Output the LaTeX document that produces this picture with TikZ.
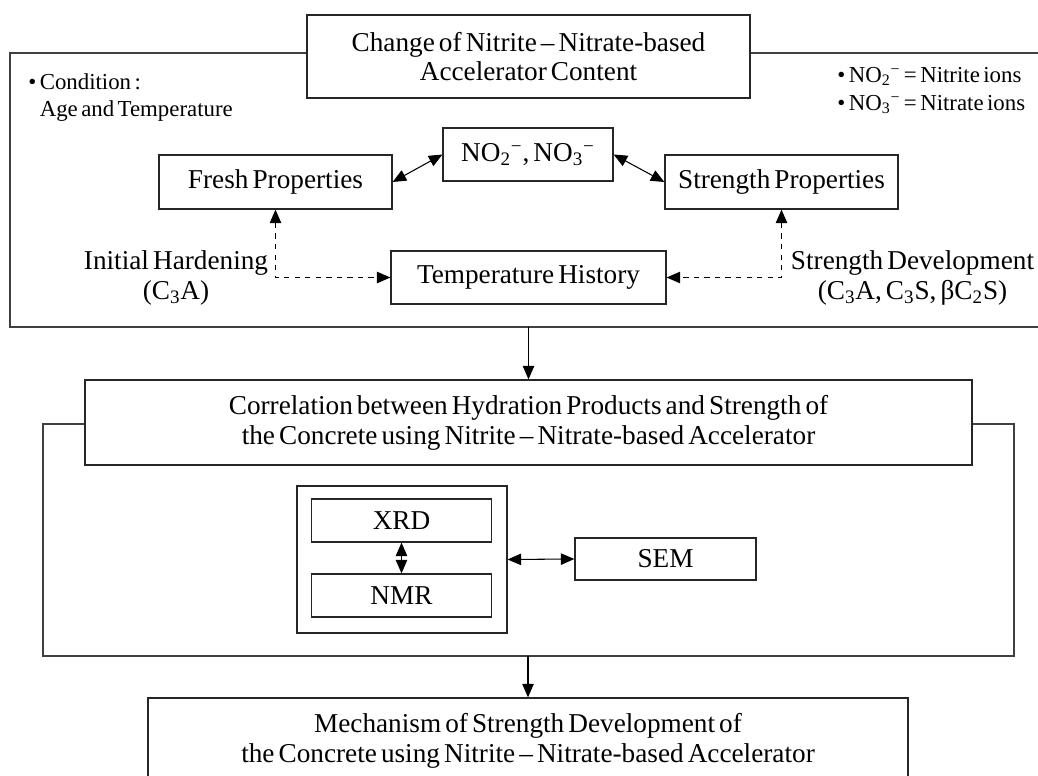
\documentclass[tikz,border=0pt]{standalone}
\usepackage{fontspec}
\setmainfont{Liberation Serif}[WordSpace=0.6]
\usetikzlibrary{arrows.meta,positioning}

\tikzset{
  box/.style={draw=black!85, line width=0.75pt, fill=white, align=center, inner sep=0pt},
  frame/.style={draw=black!75, line width=0.75pt},
  link/.style={black, line width=0.6pt, -{Triangle[length=2.7mm,width=2.3mm]}},
  dlink/.style={black, line width=0.6pt, {Triangle[length=2.7mm,width=2.3mm]}-{Triangle[length=2.7mm,width=2.3mm]}},
  note/.style={anchor=north west, align=left, inner sep=0pt, font=\fontsize{13}{15.8}\selectfont},
}

\begin{document}
\begin{tikzpicture}[x=0.02cm, y=-0.02cm, font=\fontsize{15.5}{17}\selectfont]
  \clip (0,0) rectangle (1038,776);
  % Bloc 1 : teneur en accelerateur
  \draw[frame] (10,53) rectangle (1060,327);
  \node[box, minimum width=8.86cm, minimum height=1.66cm] (title) at (528.5,56.5)
    {Change of Nitrite -- Nitrate-based\\Accelerator Content};
  \node[note] (cond) at (28,73)
    {• Condition :\\\hphantom{•\ }Age and Temperature};
  \node[note] (legend) at (837,67)
    {• NO\textsubscript{2}\textsuperscript{−} = Nitrite ions\\• NO\textsubscript{3}\textsuperscript{−} = Nitrate ions};
  \node[box, minimum width=3.4cm, minimum height=1.06cm] (noions) at (528,154.5)
    {NO\textsubscript{2}\textsuperscript{−}, NO\textsubscript{3}\textsuperscript{−}};
  \node[box, minimum width=4.66cm, minimum height=1.08cm] (fresh) at (275.5,182) {Fresh Properties};
  \node[box, minimum width=4.66cm, minimum height=1.08cm] (strength) at (781.5,182) {Strength Properties};
  \node[box, minimum width=5.5cm, minimum height=1.06cm] (temphist) at (528.5,277.5) {Temperature History};
  \node[align=center, inner sep=0pt] (inithard) at (176,278) {Initial Hardening\\(C\textsubscript{3}A)};
  \node[align=center, inner sep=0pt] (strdev) at (912.5,278)
    {Strength Development\\(C\textsubscript{3}A, C\textsubscript{3}S, βC\textsubscript{2}S)};
  \draw[dlink] (fresh.east) -- (noions.west);
  \draw[dlink] (noions.east) -- (strength.west);
  \draw[dlink, dashed] (fresh.south) |- (temphist.west);
  \draw[dlink, dashed] (strength.south) |- (temphist.east);
  % Bloc 2 : correlation
  \draw[frame] (43,424) rectangle (1014,656);
  \node[box, minimum width=17.74cm, minimum height=1.7cm] (corr) at (528.5,422.5)
    {Correlation between Hydration Products and Strength of\\the Concrete using Nitrite -- Nitrate-based Accelerator};
  \coordinate (f1bot) at (528.5,327);
  \draw[link] (f1bot) -- (corr.north);
  \node[box, minimum width=4.2cm, minimum height=2.94cm] (grp) at (402,559.5) {};
  \node[box, minimum width=3.6cm, minimum height=0.86cm] (xrd) at (401.5,520.5) {XRD};
  \node[box, minimum width=3.6cm, minimum height=0.86cm] (nmr) at (401.5,595.5) {NMR};
  \node[box, minimum width=3.62cm, minimum height=0.84cm] (sem) at (665.5,559) {SEM};
  \draw[dlink] (xrd.south) -- (nmr.north);
  \draw[dlink] (grp.east) -- (sem.west);
  % Bloc 3 : mecanisme
  \node[box, minimum width=15.2cm, minimum height=1.72cm] (mech) at (528,741)
    {Mechanism of Strength Development of\\the Concrete using Nitrite -- Nitrate-based Accelerator};
  \coordinate (f2bot) at (528,656);
  \draw[link] (f2bot) -- (mech.north);
\end{tikzpicture}
\end{document}
